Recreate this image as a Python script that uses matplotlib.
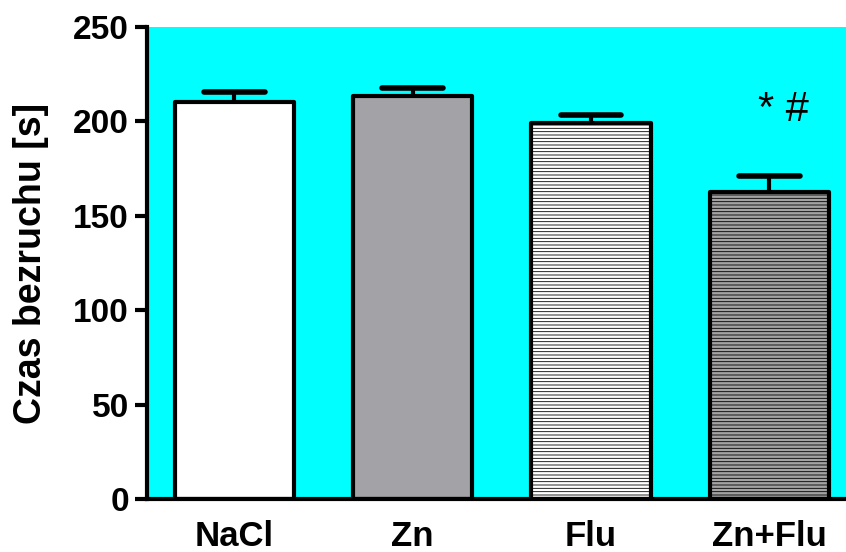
import matplotlib
matplotlib.use("Agg")
import matplotlib.pyplot as plt

# Immobility time per treatment group
groups = ["NaCl", "Zn", "Flu", "Zn+Flu"]
means = [210.3, 213.5, 199.2, 162.8]
sem = [5.3, 4.0, 4.0, 8.2]
fills = ["#FFFFFF", "#A3A2A6", "#FFFFFF", "#A3A3A3"]
hatches = [None, None, "-----", "-----"]
y_ticks = [0, 50, 100, 150, 200, 250]
significance = "* #"

plt.rcParams["font.family"] = ["Liberation Sans", "DejaVu Sans"]
plt.rcParams["hatch.linewidth"] = 0.6
plt.rcParams["hatch.color"] = "black"

fig = plt.figure(figsize=(8.46, 5.52), dpi=100)
ax = fig.add_axes([147 / 846, 1 - 499 / 552, 1 - 147 / 846, (499 - 27) / 552])
ax.set_facecolor("#00FFFF")

x = list(range(len(groups)))
for xi, m, c, h in zip(x, means, fills, hatches):
    ax.bar(xi, m, width=0.67, color=c, edgecolor="black", linewidth=3,
           hatch=h, joinstyle="round", zorder=2)

# upward-only error bars with rounded caps
for xi, m, e in zip(x, means, sem):
    ax.vlines(xi, m, m + e, color="black", linewidth=3, zorder=3)
    ax.hlines(m + e, xi - 0.17, xi + 0.17, color="black", linewidth=4,
              capstyle="round", zorder=3)

ax.text(3.08, 206, significance, fontsize=30, ha="center", va="center")

ax.set_xlim(-0.49, 3.43)
ax.set_ylim(0, 250)
ax.set_yticks(y_ticks)
ax.set_yticklabels([str(t) for t in y_ticks], fontsize=24, fontweight="bold")
ax.set_xticks(x)
ax.set_xticklabels(groups, fontsize=25, fontweight="bold")
ax.tick_params(axis="y", length=9, width=3, pad=4)
ax.tick_params(axis="x", length=0, pad=15)
ax.set_ylabel("Czas bezruchu [s]", fontsize=27, fontweight="bold", labelpad=17)

for s in ["top", "right"]:
    ax.spines[s].set_visible(False)
for s in ["left", "bottom"]:
    ax.spines[s].set_linewidth(3)

fig.savefig("out.png", dpi=100)
